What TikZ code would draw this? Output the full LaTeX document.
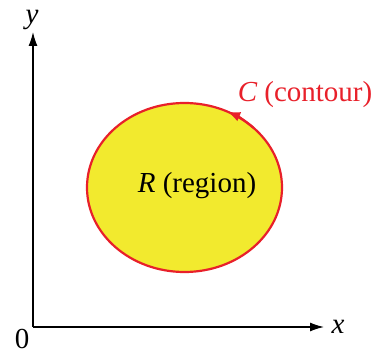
\documentclass[tikz,border=0pt]{standalone}
\usepackage{fontspec}
\setmainfont{Liberation Serif}
\usetikzlibrary{arrows.meta,shapes.geometric}
\definecolor{cred}{HTML}{E8202A}
\definecolor{cyel}{HTML}{F2EA2E}
\begin{document}
\begin{tikzpicture}[x=1pt,y=1pt,
  lbl/.style={font=\fontsize{29}{32}\selectfont, inner sep=0pt},
  axis/.style={line width=1.4pt, -{Latex[length=14pt,width=9pt]}}]
\useasboundingbox (0,0) rectangle (380,354);
\coordinate (O) at (33,27);
\coordinate (xe) at (324,27);
\coordinate (ye) at (33,322);
\draw[axis] (O) -- (xe);
\draw[axis] (O) -- (ye);
\node[lbl] (xl) at (338,27) {\itshape x};
\node[lbl] (yl) at (32,334) {\itshape y};
\node[lbl] (zero) at (22,15) {0};
\node[ellipse, draw=cred, fill=cyel, line width=2.2pt, minimum width=195pt, minimum height=169pt, inner sep=0pt] (R) at (184.5,166.5) {};
\draw[cred, line width=2.2pt, -{Latex[length=13pt,width=10pt]}] (R.center) ++(45:97.5 and 84.5) arc[start angle=45, end angle=64, x radius=97.5, y radius=84.5];
\node[lbl] (Rl) at (197,168) {\itshape R\upshape\ (region)};
\node[lbl, text=cred] (Cl) at (305,259) {\itshape C\upshape\ (contour)};
\end{tikzpicture}
\end{document}
